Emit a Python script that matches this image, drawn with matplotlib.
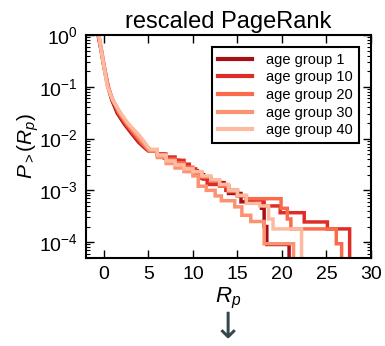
import matplotlib
matplotlib.use('Agg')
import matplotlib.pyplot as plt

plt.rcParams['font.family'] = ['Liberation Sans', 'DejaVu Sans']
plt.rcParams['mathtext.fontset'] = 'custom'
plt.rcParams['mathtext.rm'] = 'Liberation Sans'
plt.rcParams['mathtext.it'] = 'Liberation Sans:italic'
plt.rcParams['mathtext.bf'] = 'Liberation Sans:bold'

labels = ['age group 1', 'age group 10', 'age group 20', 'age group 30', 'age group 40']
colors = ['#a50f15', '#de2d26', '#fb6a4a', '#fc9272', '#fcbba1']

# smooth upper part of each CCDF
head_p = [1.4, 0.5, 0.25, 0.1, 0.055, 0.031, 0.019, 0.012, 0.0085, 0.0068]
head_x = [
    [-0.8, -0.3, 0.0, 0.45, 0.9, 1.5, 2.3, 3.2, 3.9, 4.5, 5.0],
    [-0.8, -0.3, 0.0, 0.5, 0.95, 1.6, 2.4, 3.3, 4.0, 4.6, 5.0],
    [-0.75, -0.25, 0.05, 0.5, 1.0, 1.7, 2.55, 3.5, 4.2, 4.7, 5.05],
    [-0.7, -0.25, 0.05, 0.45, 1.05, 1.85, 2.7, 3.7, 4.4, 4.85, 5.1],
    [-0.7, -0.3, 0.0, 0.4, 1.0, 1.9, 2.8, 3.9, 4.6, 5.0, 5.3],
]
head_end = [0.0058, 0.0058, 0.006, 0.0058, 0.0062]

# stepped tail: position of each drop and the level after it
tail_x = [
    [6.0, 6.8, 7.6, 8.4, 9.0, 9.6, 10.5, 11.2, 12.0, 13.5, 14.0, 15.4, 17.7, 18.0, 18.3, 20.8],
    [6.0, 7.0, 8.0, 9.0, 9.6, 10.3, 11.0, 11.6, 13.7, 15.0, 16.0, 17.2, 18.0, 19.8, 22.5, 25.1, 27.6],
    [6.0, 7.0, 8.0, 9.0, 10.0, 11.0, 12.0, 13.0, 14.0, 15.0, 16.0, 19.9, 20.6, 21.0, 26.1, 26.7],
    [6.0, 7.0, 8.0, 9.0, 10.0, 10.6, 11.5, 12.5, 13.2, 14.7, 15.5, 16.5, 18.0, 21.3],
    [6.0, 7.0, 8.0, 9.0, 10.0, 11.0, 12.0, 13.0, 14.0, 15.0, 16.0, 17.5, 18.5, 19.0, 22.2],
]
tail_p = [
    [0.0050, 0.0042, 0.0038, 0.0033, 0.0028, 0.0024, 0.0020, 0.00166, 0.00141, 0.0012,
     0.00087, 0.0006, 0.00045, 0.0002, 0.00009, 0],
    [0.0050, 0.0044, 0.0038, 0.0032, 0.0026, 0.0021, 0.0017, 0.0013, 0.0010, 0.00079,
     0.00066, 0.0006, 0.0005, 0.00037, 0.000245, 0.00018, 0],
    [0.0048, 0.0040, 0.0034, 0.0028, 0.0022, 0.0018, 0.0015, 0.0012, 0.00095, 0.00078,
     0.00069, 0.00045, 0.00028, 0.00018, 0.000093, 0],
    [0.0043, 0.0033, 0.0027, 0.0023, 0.0019, 0.0012, 0.0010, 0.00078, 0.00063, 0.00048,
     0.00033, 0.00025, 0.000093, 0],
    [0.0048, 0.0037, 0.0031, 0.0026, 0.0023, 0.0019, 0.0016, 0.0013, 0.0010, 0.0008,
     0.00056, 0.0005, 0.00028, 0.00018, 0],
]


def ccdf_path(hx, hp, tx, tp):
    xs, ps = list(hx), list(hp)
    for x, p in zip(tx, tp):
        xs += [x, x]
        ps += [ps[-1], p]
    return xs, ps


fig = plt.figure(figsize=(3.85, 3.46), dpi=100)
ax = fig.add_axes([0.2234, 0.2552, 0.7403, 0.6436])

for i in range(len(labels)):
    xs, ps = ccdf_path(head_x[i], head_p + [head_end[i]], tail_x[i], tail_p[i])
    ax.plot(xs, ps, color=colors[i], lw=2.5, label=labels[i], solid_joinstyle='miter')

ax.set_yscale('log', nonpositive='clip')
ax.set_xlim(-2, 30)
ax.set_ylim(5e-5, 1)
ax.set_xticks([0, 5, 10, 15, 20, 25, 30])
ax.set_yticks([1e-4, 1e-3, 1e-2, 1e-1, 1])

for s in ax.spines.values():
    s.set_linewidth(1.5)
ax.tick_params(which='both', direction='in', top=True, right=True, labelsize=14, pad=6)
ax.tick_params(which='major', length=6, width=1)
ax.tick_params(which='minor', length=3, width=0.8)
ax.minorticks_off()
ax.yaxis.set_minor_locator(matplotlib.ticker.LogLocator(base=10, subs=range(2, 10), numticks=20))
ax.yaxis.set_minor_formatter(matplotlib.ticker.NullFormatter())

ax.set_title('rescaled PageRank', fontsize=17, pad=5)
ax.set_xlabel('$R_p$', fontsize=16, labelpad=2)
ax.set_ylabel('$P_{>}(R_p)$', fontsize=15, labelpad=-2)

leg = ax.legend(loc='upper right', bbox_to_anchor=(359 / 385, 1 - 47 / 346),
                bbox_transform=fig.transFigure, borderaxespad=0, fontsize=10.5,
                fancybox=False, framealpha=1, edgecolor='black',
                handlelength=2.3, labelspacing=0.25, handletextpad=1.0)
leg.get_frame().set_linewidth(1.5)
for line in leg.get_lines():
    line.set_linewidth(3)

fig.text(228 / 385, 1 - 328 / 346, '\u2193', ha='center', va='center',
         fontsize=26, color='#37474f', family='DejaVu Sans')

fig.savefig('out.png', dpi=100)
